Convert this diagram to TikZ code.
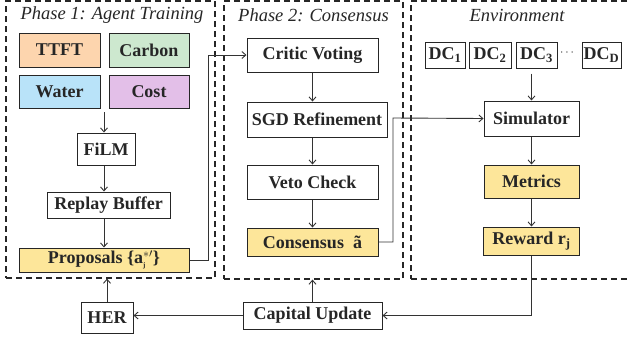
\documentclass[tikz,border=0pt]{standalone}
\usepackage{fontspec}
\setmainfont{Liberation Serif}
\usetikzlibrary{arrows.meta}
\definecolor{cttft}{HTML}{FDD5AE}
\definecolor{ccarbon}{HTML}{CDE8CF}
\definecolor{cwater}{HTML}{B9E3F9}
\definecolor{ccost}{HTML}{E3BFE8}
\definecolor{cyel}{HTML}{FDE69A}
\definecolor{cline}{HTML}{333333}
\begin{document}
\begin{tikzpicture}[x=1pt,y=-1pt,
  bx/.style={draw=black!85,line width=1pt,inner sep=0pt,font=\fontsize{18}{21}\selectfont\bfseries,text=black!85},
  phase/.style={draw=black!85,line width=1.2pt,dash pattern=on 6pt off 4pt,inner sep=0pt},
  ttl/.style={font=\fontsize{18.5}{22}\selectfont\itshape,text=black!85},
  arr/.style={draw=cline,line width=0.9pt,-{Straight Barb[length=4pt,width=7pt]}},
  ln/.style={draw=cline,line width=0.9pt}]
\useasboundingbox (0,0) rectangle (629,341);
% phase boxes
\node[phase,minimum width=209pt,minimum height=277pt] (p1) at (110.5,139.5) {};
\node[phase,minimum width=179pt,minimum height=278pt] (p2) at (313.5,140) {};
\node[phase,minimum width=229pt,minimum height=278pt] (p3) at (525.5,140) {};
\node[ttl] (t1) at (112,15) {Phase 1: Agent Training};
\node[ttl] (t2) at (313.5,15) {Phase 2: Consensus};
\node[ttl] (t3) at (517,15) {Environment};
% phase 1
\node[bx,fill=cttft,minimum width=81pt,minimum height=34pt] (ttft) at (59.5,50) {TTFT};
\node[bx,fill=ccarbon,minimum width=80pt,minimum height=34pt] (carbon) at (149,50) {Carbon};
\node[bx,fill=cwater,minimum width=81pt,minimum height=33pt] (water) at (59.5,91.5) {Water};
\node[bx,fill=ccost,minimum width=80pt,minimum height=33pt] (cost) at (149,91.5) {Cost};
\coordinate (grid) at (104,112);
\node[bx,minimum width=58pt,minimum height=32pt] (film) at (106,149) {FiLM};
\node[bx,minimum width=123pt,minimum height=26pt] (replay) at (108.5,205) {Replay Buffer};
\node[bx,fill=cyel,minimum width=170pt,minimum height=24pt] (prop) at (104,260) {Proposals \{a$_{\mbox{\scriptsize j}}^{*\prime}$\}};
% phase 2
\node[bx,minimum width=131pt,minimum height=34pt] (critic) at (312.5,55) {Critic Voting};
\node[bx,minimum width=140pt,minimum height=35pt] (sgd) at (317,119.5) {SGD Refinement};
\node[bx,minimum width=131pt,minimum height=34pt] (veto) at (312.5,182) {Veto Check};
\node[bx,fill=cyel,minimum width=131pt,minimum height=28pt] (cons) at (312.5,242) {Consensus\ \ ã};
% environment
\node[bx,minimum width=40pt,minimum height=26pt] (dc1) at (445,55) {DC\textsubscript{1}};
\node[bx,minimum width=42pt,minimum height=26pt] (dc2) at (490,55) {DC\textsubscript{2}};
\node[bx,minimum width=41pt,minimum height=26pt] (dc3) at (536.5,55) {DC\textsubscript{3}};
\node[font=\fontsize{12}{14}\selectfont,text=black!85] (dots) at (567,53) {$\cdots$};
\node[bx,minimum width=39pt,minimum height=26pt] (dcd) at (601.5,55) {DC\textsubscript{D}};
\node[bx,minimum width=95pt,minimum height=35pt] (sim) at (531.5,118.5) {Simulator};
\node[bx,fill=cyel,minimum width=95pt,minimum height=33pt] (met) at (531.5,181.5) {Metrics};
\node[bx,fill=cyel,minimum width=96pt,minimum height=28pt] (rew) at (531.5,241) {Reward r\textsubscript{j}};
% bottom
\node[bx,minimum width=139pt,minimum height=27pt] (cap) at (312.5,315.5) {Capital Update};
\node[bx,minimum width=52pt,minimum height=31pt] (her) at (107,317.5) {HER};
% connectors
\draw[arr] (grid) -- (grid |- film.north);
\draw[arr] (grid |- film.south) -- (grid |- replay.north);
\draw[arr] (grid |- replay.south) -- (grid |- prop.north);
\draw[arr] (prop.east) -| (208,55) -- (critic.west);
\draw[arr] (critic.south) -- (critic.south |- sgd.north);
\draw[arr] (critic.south |- sgd.south) -- (veto.north);
\draw[arr] (veto.south) -- (cons.north);
\draw[arr] (cons.east) -| (393,118) -- (sim.west);
\draw[arr] (sim.north |- dc3.south) ++(0,5) -- (sim.north);
\draw[arr] (sim.south) -- (met.north);
\draw[arr] (met.south) -- (rew.north);
\draw[arr] (rew.south) |- (cap.east);
\draw[arr] (cap.west) -- (cap.west -| her.east);
\draw[arr] (cap.north) -- (cap.north |- p2.south);
\draw[arr] (her.north) -- (her.north |- p1.south);
\end{tikzpicture}
\end{document}
